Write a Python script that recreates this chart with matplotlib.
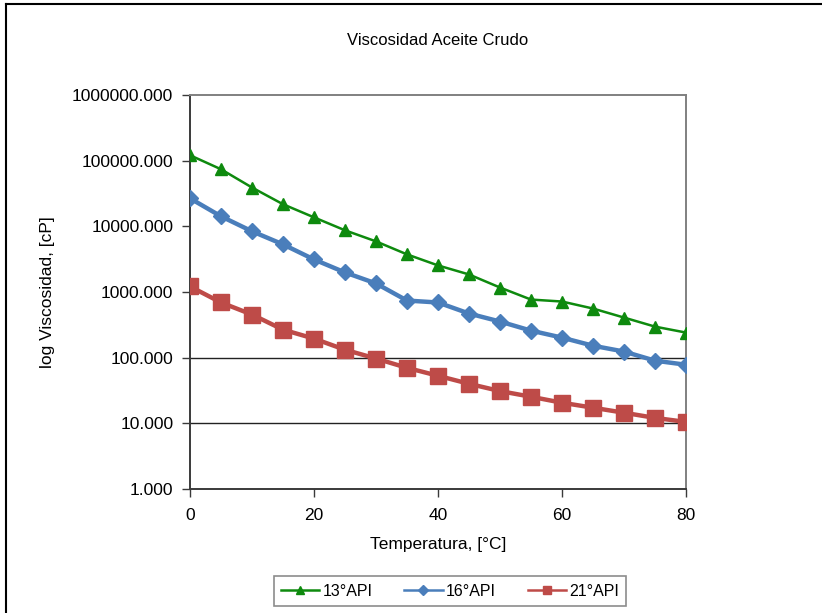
import matplotlib.pyplot as plt
from matplotlib.ticker import FixedLocator, FormatStrFormatter, NullLocator
from matplotlib.lines import Line2D

plt.rcParams['font.family'] = ['Liberation Sans', 'DejaVu Sans']

temps = [0, 5, 10, 15, 20, 25, 30, 35, 40, 45, 50, 55, 60, 65, 70, 75, 80]
api13 = [121000, 74000, 39000, 21700, 13700, 8700, 5900, 3740, 2540, 1850,
         1170, 767, 716, 560, 408, 297, 241]
api16 = [26700, 14200, 8400, 5310, 3130, 1985, 1350, 741, 692, 470,
         355, 258, 202, 152, 124, 90, 78]
api21 = [1214, 692, 453, 267, 195, 132, 97, 70, 53, 40,
         31, 25.4, 20.6, 17.3, 14.5, 12.1, 10.5]
labels = ['13°API', '16°API', '21°API']
y_ticks = [1, 10, 100, 1000, 10000, 100000, 1000000]
x_ticks = [0, 20, 40, 60, 80]

green = '#0e8a0e'
blue = '#4a7ebb'
red = '#be4b48'

fig = plt.figure(figsize=(8.22, 6.13), dpi=100)
ax = fig.add_axes([190 / 822, 1 - 489 / 613, 496 / 822, 394 / 613])

ax.plot(temps, api13, color=green, lw=1.8, marker='^', ms=9, mec=green, mfc=green, zorder=5)
ax.plot(temps, api16, color=blue, lw=3.2, marker='D', ms=8, mec=blue, mfc=blue, zorder=4)
ax.plot(temps, api21, color=red, lw=3.2, marker='s', ms=11, mec=red, mfc=red, zorder=3)

# only two gridlines are visible in the original
for g in [10, 100]:
    ax.axhline(g, color='#222222', lw=1.0, zorder=1)

ax.set_yscale('log')
ax.set_ylim(1, 1000000)
ax.set_xlim(0, 80)
ax.yaxis.set_major_locator(FixedLocator(y_ticks))
ax.yaxis.set_minor_locator(NullLocator())
ax.yaxis.set_major_formatter(FormatStrFormatter('%.3f'))
ax.set_xticks(x_ticks)

for s in ['left', 'bottom']:
    ax.spines[s].set_color('#3a3a3a')
    ax.spines[s].set_linewidth(1.4)
for s in ['top', 'right']:
    ax.spines[s].set_color('#808080')
    ax.spines[s].set_linewidth(1.4)

ax.tick_params(axis='both', direction='out', length=6, width=1, color='#3a3a3a',
               labelsize=12.5, pad=6)
ax.tick_params(axis='x', pad=8)

ax.set_title('Viscosidad Aceite Crudo', fontsize=12, pad=36)
ax.set_xlabel('Temperatura, [°C]', fontsize=12.5, labelpad=10)
ax.set_ylabel('log Viscosidad, [cP]', fontsize=12.5, labelpad=12)

handles = [
    Line2D([], [], color=green, lw=1.8, marker='^', ms=6),
    Line2D([], [], color=blue, lw=1.8, marker='D', ms=5),
    Line2D([], [], color=red, lw=1.8, marker='s', ms=6),
]
leg = fig.legend(handles, labels, loc='center', bbox_to_anchor=(450 / 822, 1 - 591 / 613),
                 ncol=3, fontsize=11.5, frameon=True, fancybox=False, handlelength=2.4,
                 columnspacing=2.0, handletextpad=0.2, borderpad=0.45, borderaxespad=0)
leg.get_frame().set_edgecolor('#707070')
leg.get_frame().set_linewidth(1.2)

# frame lines of the cropped screenshot
fig.add_artist(Line2D([0.007, 0.007], [0, 0.994], color='black', lw=1.5, transform=fig.transFigure))
fig.add_artist(Line2D([0.007, 1], [0.994, 0.994], color='black', lw=1.5, transform=fig.transFigure))

fig.savefig('out.png', dpi=100)
